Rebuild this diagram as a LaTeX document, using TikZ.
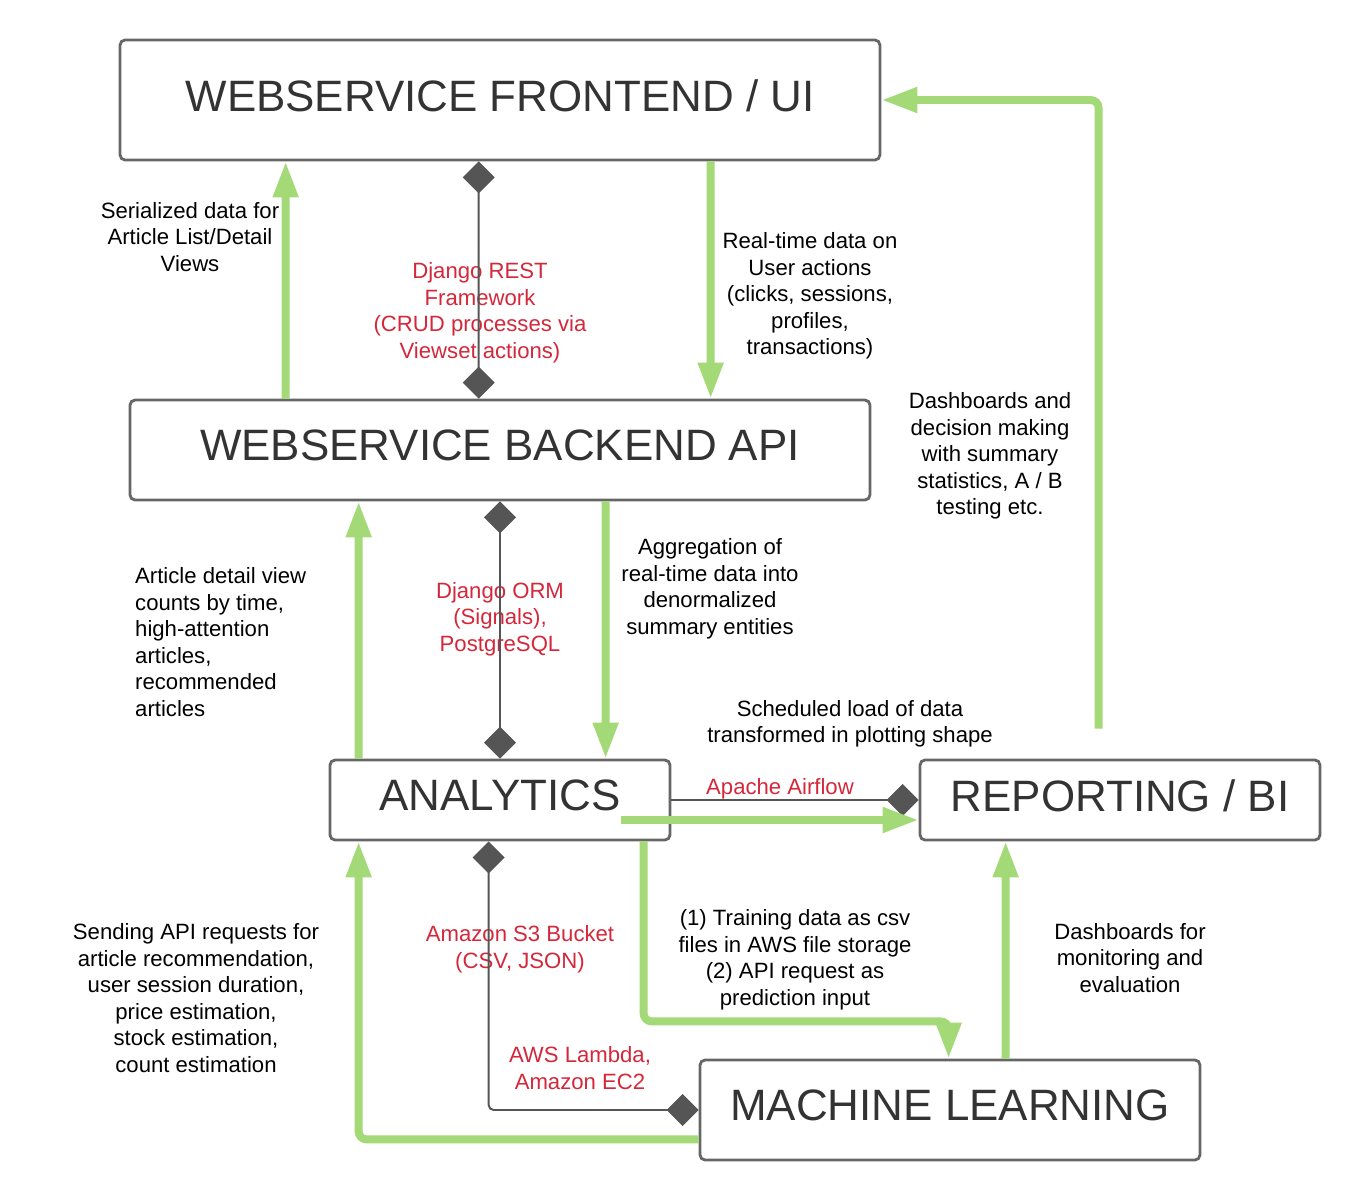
\documentclass[tikz,border=0pt]{standalone}
\usepackage{fontspec}
\setmainfont{Liberation Sans}
\usetikzlibrary{arrows.meta,calc}
\definecolor{flowgreen}{RGB}{163,217,119}
\definecolor{techred}{RGB}{212,39,58}
\definecolor{linkgray}{RGB}{85,85,85}
\definecolor{boxgray}{RGB}{102,102,102}
\tikzset{head/.tip={Triangle[length=0.72cm,width=0.48cm]},diam/.tip={Diamond[length=0.64cm,width=0.64cm]},
  box/.style={draw=boxgray,line width=1.6pt,rounded corners=0.1cm,text=black!80,font=\fontsize{25}{30}\selectfont,text depth=0.5em},
  flow/.style={draw=flowgreen,line width=4.5pt,-head,rounded corners=0.16cm},
  link/.style={draw=linkgray,line width=1.1pt,rounded corners=0.1cm},
  note/.style={align=center,font=\fontsize{12.6}{15.1}\selectfont},
  tech/.style={note,text=techred}}
\begin{document}
\begin{tikzpicture}[x=0.02cm,y=-0.02cm]
  \useasboundingbox (0,0) rectangle (1360,1200);
  \node (fe) [box,minimum width=15.2cm,minimum height=2.4cm] at (500,100) {WEBSERVICE FRONTEND / UI};
  \node (be) [box,minimum width=14.8cm,minimum height=2cm] at (500,450) {WEBSERVICE BACKEND API};
  \node (an) [box,minimum width=6.8cm,minimum height=1.6cm] at (500,800) {ANALYTICS};
  \node (rb) [box,minimum width=8cm,minimum height=1.6cm] at (1120,800) {REPORTING / BI};
  \node (ml) [box,minimum width=10cm,minimum height=2cm] at (950,1110) {MACHINE LEARNING};
  \node (ser) [note] at (190,237) {Serialized data for\\Article List/Detail\\Views};
  \node (drf) [tech] at (480,313) {Django REST\\Framework\\(CRUD processes via\\Viewset actions)};
  \node (rt) [note] at (810,296) {Real-time data on\\User actions\\(clicks, sessions,\\profiles,\\transactions)};
  \node (dash) [note] at (990,456) {Dashboards and\\decision making\\with summary\\statistics, A / B\\testing etc.};
  \node (adv) [note,align=left,anchor=west] at (129,642) {Article detail view\\counts by time,\\high-attention\\articles,\\recommended\\articles};
  \node (orm) [tech] at (500,619) {Django ORM\\(Signals),\\PostgreSQL};
  \node (agg) [note] at (710,589) {Aggregation of\\real-time data into\\denormalized\\summary entities};
  \node (sched) [note] at (850,724) {Scheduled load of data\\transformed in plotting shape};
  \node (air) [tech] at (780,789) {Apache Airflow};
  \node (train) [note] at (795,960) {(1) Training data as csv\\files in AWS file storage\\(2) API request as\\prediction input};
  \node (dfm) [note] at (1130,958) {Dashboards for\\monitoring and\\evaluation};
  \node (s3) [tech] at (520,949) {Amazon S3 Bucket\\(CSV, JSON)};
  \node (lam) [tech] at (580,1068) {AWS Lambda,\\Amazon EC2};
  \node (send) [note] at (196,998) {Sending API requests for\\article recommendation,\\user session duration,\\price estimation,\\stock estimation,\\count estimation};
  \draw [flow] ($(be.north west)+(157,0)$) -- ($(fe.south west)+(167,0)$);
  \draw [link,diam-diam] ($(fe.south west)+(360,0)$) -- ($(be.north west)+(350,0)$);
  \draw [flow] ($(fe.south west)+(592,0)$) -- ($(be.north west)+(582,0)$);
  \draw [flow] ($(rb.north west)+(180,-30)$) |- (fe.east);
  \draw [flow] ($(an.north west)+(30,0)$) -- ($(be.south west)+(230,0)$);
  \draw [link,diam-diam] (be.south) -- (an.north);
  \draw [flow] ($(be.south west)+(477,0)$) -- ($(an.north west)+(277,0)$);
  \draw [link,-diam] (an.east) -- (rb.west);
  \draw [flow] ($(an.east)+(-50,20)$) -- ($(rb.west)+(0,20)$);
  \draw [flow] ($(an.south west)+(315,0)$) -- ++(0,180) -| ($(ml.north west)+(250,0)$);
  \draw [flow] ($(ml.north west)+(307,0)$) -- ($(rb.south west)+(87,0)$);
  \draw [link,diam-diam] (ml.west) -| ($(an.south west)+(160,0)$);
  \draw [flow] ($(ml.south west)+(0,-22)$) -| ($(an.south west)+(30,0)$);
\end{tikzpicture}
\end{document}
